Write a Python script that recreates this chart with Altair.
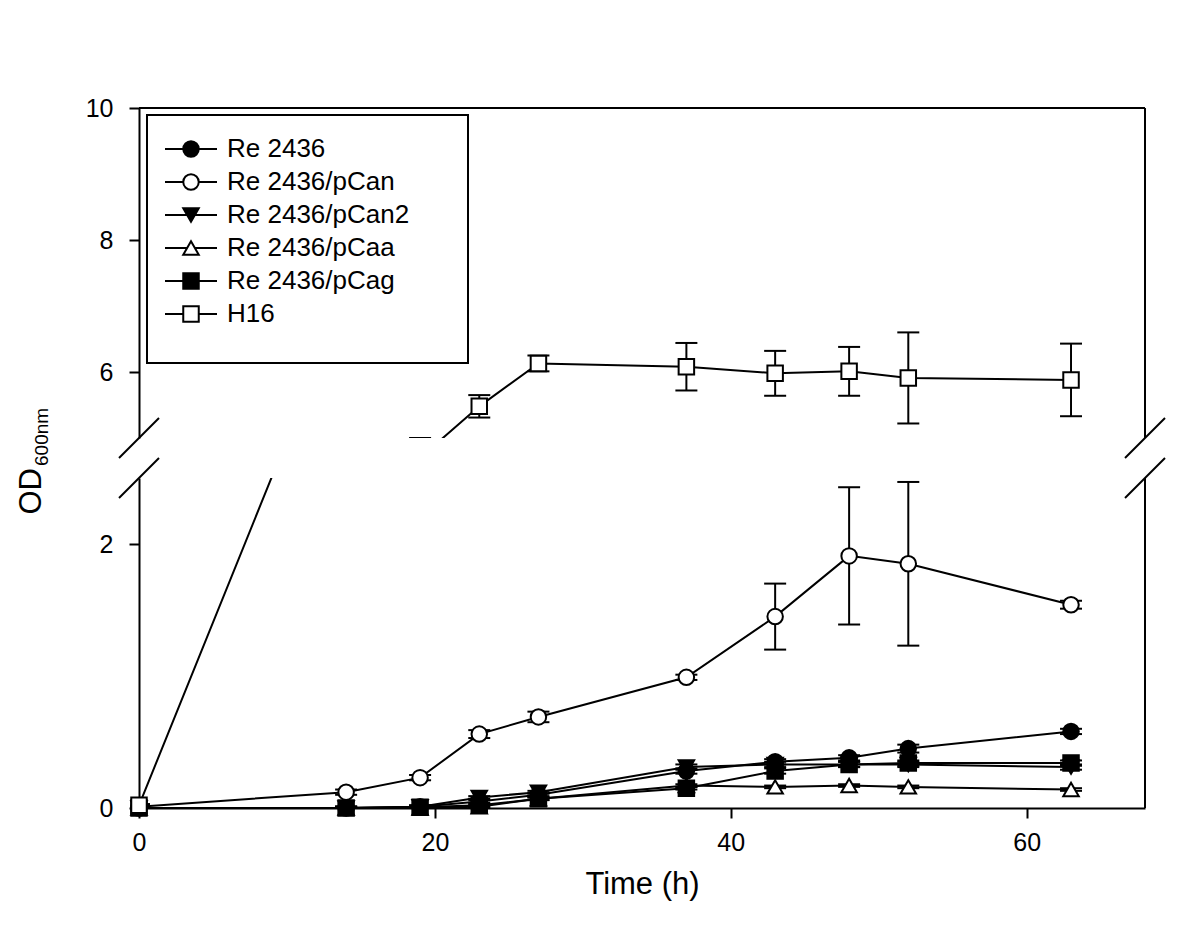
import altair as alt
import pandas as pd

# ---- data ----
times = [0, 14, 19, 23, 27, 37, 43, 48, 52, 63]
series_names = ["Re 2436", "Re 2436/pCan", "Re 2436/pCan2", "Re 2436/pCaa", "Re 2436/pCag", "H16"]

re2436 = [0.00, 0.00, 0.01, 0.05, 0.10, 0.28, 0.35, 0.38, 0.45, 0.58]
re2436_err = [0.01, 0.01, 0.01, 0.01, 0.01, 0.02, 0.02, 0.02, 0.03, 0.02]
pcan = [0.01, 0.12, 0.23, 0.56, 0.69, 0.99, 1.45, 1.91, 1.85, 1.54]
pcan_err = [0.01, 0.02, 0.02, 0.03, 0.04, 0.02, 0.25, 0.52, 0.62, 0.03]
pcan2 = [0.00, 0.00, 0.01, 0.08, 0.12, 0.31, 0.33, 0.33, 0.33, 0.31]
pcan2_err = [0.01, 0.01, 0.01, 0.01, 0.01, 0.02, 0.02, 0.02, 0.02, 0.02]
pcaa = [0.00, 0.00, 0.00, 0.01, 0.07, 0.17, 0.16, 0.17, 0.16, 0.14]
pcaa_err = [0.01, 0.01, 0.01, 0.01, 0.01, 0.01, 0.01, 0.01, 0.01, 0.01]
pcag = [0.00, 0.00, 0.005, 0.02, 0.07, 0.15, 0.28, 0.33, 0.34, 0.34]
pcag_err = [0.01, 0.01, 0.01, 0.01, 0.01, 0.01, 0.02, 0.02, 0.02, 0.02]
h16 = [0.02, 3.90, 4.70, 5.48, 6.13, 6.08, 5.98, 6.01, 5.91, 5.88]
h16_err = [0.01, 0.20, 0.30, 0.17, 0.12, 0.36, 0.34, 0.37, 0.69, 0.55]

values = [re2436, pcan, pcan2, pcaa, pcag, h16]
errors = [re2436_err, pcan_err, pcan2_err, pcaa_err, pcag_err, h16_err]
shapes = ["circle", "circle", "triangle-down", "triangle-up", "square", "square"]
fills = ["black", "white", "black", "white", "black", "white"]

x_ticks = [0, 20, 40, 60]
upper_ticks = [6, 8, 10]
lower_ticks = [0, 2]
x_domain = [0, 68]
upper_domain = [5, 10]
lower_domain = [0, 2.5]

rows = []
for name, vals, errs in zip(series_names, values, errors):
    for t, v, e in zip(times, vals, errs):
        rows.append({"series": name, "time": t, "od": v, "lo": v - e, "hi": v + e})
df = pd.DataFrame(rows)
one = pd.DataFrame({"k": [0]})

FONT = "Liberation Sans"
shape_scale = alt.Scale(domain=series_names, range=shapes)
fill_scale = alt.Scale(domain=series_names, range=fills)
PANEL_W = 1006
PANEL_H = 330
LW = 2


def make_panel(ydom, yticks, lower):
    if lower:
        xaxis = alt.Axis(values=x_ticks, format="d", title="Time (h)", titleFontSize=31,
                         titleFontWeight="normal", titlePadding=14, titleFont=FONT,
                         labelFlush=False, labelPadding=12)
    else:
        xaxis = None
    yaxis = alt.Axis(values=yticks, format="d", title=None, labelPadding=16)
    xs = alt.Scale(domain=x_domain, nice=False, zero=False)
    ys = alt.Scale(domain=ydom, nice=False, zero=False)

    def X(f="time:Q"):
        return alt.X(f, scale=xs, axis=xaxis)

    def Y(f):
        return alt.Y(f, scale=ys, axis=yaxis)

    base = alt.Chart(df)
    if lower:
        pts_df = df[df["od"] <= ydom[1]]
    else:
        pts_df = df[df["od"] >= ydom[0]]

    err = base.mark_rule(color="black", strokeWidth=LW, clip=True).encode(
        x=X(), y=Y("lo:Q"), y2="hi:Q")
    cap_hi = base.mark_tick(color="black", size=22, thickness=2, orient="horizontal",
                            clip=True, opacity=1).encode(x=X(), y=Y("hi:Q"))
    cap_lo = base.mark_tick(color="black", size=22, thickness=2, orient="horizontal",
                            clip=True, opacity=1).encode(x=X(), y=Y("lo:Q"))
    line = base.mark_line(color="black", strokeWidth=LW, clip=True).encode(
        x=X(), y=Y("od:Q"), detail="series:N")
    pts = alt.Chart(pts_df).mark_point(size=240, stroke="black", strokeWidth=LW,
                                       opacity=1, fillOpacity=1).encode(
        x=X(), y=Y("od:Q"),
        shape=alt.Shape("series:N", scale=shape_scale, legend=None),
        fill=alt.Fill("series:N", scale=fill_scale, legend=None))

    layers = [err, cap_hi, cap_lo, line, pts]

    # frame: right edge (and top edge for the upper panel)
    right = alt.Chart(one).mark_rule(color="black", strokeWidth=2).encode(
        x=alt.datum(x_domain[1]), y=alt.datum(ydom[0]), y2=alt.datum(ydom[1]))
    layers.append(right)
    if not lower:
        top = alt.Chart(one).mark_rule(color="black", strokeWidth=2).encode(
            y=alt.datum(ydom[1]), x=alt.datum(x_domain[0]), x2=alt.datum(x_domain[1]))
        layers.append(top)

    # axis break slashes
    b = ydom[1] if lower else ydom[0]
    for xv in x_domain:
        sl = alt.Chart(one).mark_rule(color="black", strokeWidth=2,
                                      xOffset=-20, x2Offset=20,
                                      yOffset=20, y2Offset=-20).encode(
            x=alt.datum(xv), x2=alt.datum(xv), y=alt.datum(b), y2=alt.datum(b))
        layers.append(sl)

    if not lower:
        # legend box
        box = alt.Chart(one).mark_rect(fill="white", stroke="black", strokeWidth=LW).encode(
            x=alt.value(8), x2=alt.value(329), y=alt.value(7), y2=alt.value(255))
        layers.append(box)
        leg = pd.DataFrame({"series": series_names})
        for i, name in enumerate(series_names):
            ly = 41 + 33 * i
            sub = alt.Chart(leg).transform_filter(alt.datum.series == name)
            layers.append(sub.mark_rule(color="black", strokeWidth=LW).encode(
                x=alt.value(26), x2=alt.value(78), y=alt.value(ly)))
            layers.append(sub.mark_point(size=240, stroke="black", strokeWidth=LW,
                                         opacity=1, fillOpacity=1).encode(
                x=alt.value(52), y=alt.value(ly),
                shape=alt.Shape("series:N", scale=shape_scale, legend=None),
                fill=alt.Fill("series:N", scale=fill_scale, legend=None)))
            layers.append(sub.mark_text(align="left", baseline="middle", fontSize=26,
                                        font=FONT, color="black").encode(
                x=alt.value(88), y=alt.value(ly), text="series:N"))
    else:
        # y-axis title OD with subscript 600nm
        od = alt.Chart(one).mark_text(text="OD", angle=270, fontSize=31, font=FONT,
                                      align="right", baseline="middle", color="black").encode(
            x=alt.value(-107), y=alt.value(-10))
        subs = alt.Chart(one).mark_text(text="600nm", angle=270, fontSize=19, font=FONT,
                                        align="left", baseline="middle", color="black").encode(
            x=alt.value(-97), y=alt.value(-12))
        layers += [od, subs]

    return alt.layer(*layers).properties(width=PANEL_W, height=PANEL_H)


upper = make_panel(upper_domain, upper_ticks, lower=False)
lower = make_panel(lower_domain, lower_ticks, lower=True)

chart = alt.vconcat(upper, lower, spacing=40, bounds="flush").resolve_scale(
    y="independent", x="independent"
).properties(
    background="white",
    padding={"left": 8, "top": 88, "right": 10, "bottom": 10}
).configure_view(stroke=None).configure_axis(
    grid=False, labelFont=FONT, labelFontSize=25, labelColor="black",
    domainColor="black", domainWidth=2, tickColor="black", tickWidth=2,
    tickSize=10, titleColor="black"
)

chart.save("out.html", embed_options={"renderer": "svg", "actions": False})
